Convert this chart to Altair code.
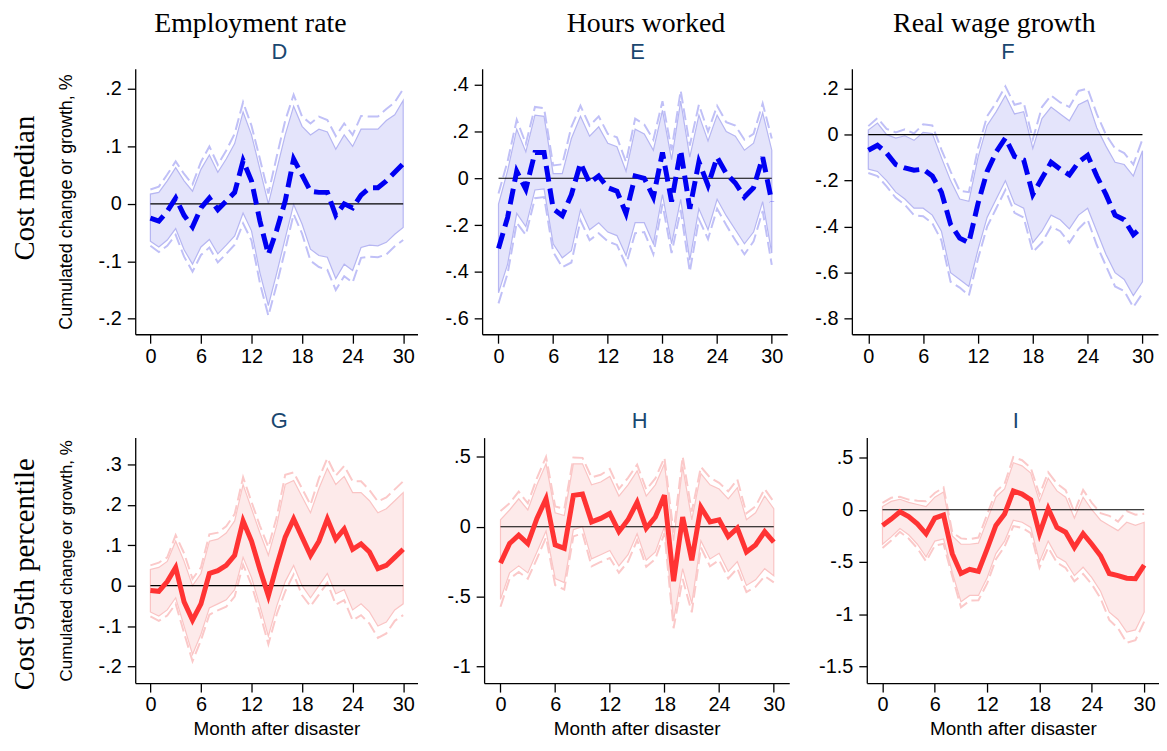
import altair as alt
import pandas as pd

months = list(range(31))
x_ticks = [0, 1.5, 3, 4.5, 6, 7.5, 9, 10.5, 12, 13.5, 15, 16.5, 18, 19.5,
           21, 22.5, 24, 25.5, 27, 28.5, 30]

col_titles = ["Employment rate", "Hours worked", "Real wage growth"]
row_titles = ["Cost median", "Cost 95th percentile"]

# ---- Cost median ----
emp_med_est = [-.025, -.03, -.013, .01, -.02, -.04, -.007, .01, -.01, .005, .02, .075, .04, -.03, -.088, -.045,
               .005, .078, .05, .022, .02, .02, -.02, .0, -.007, .015, .028, .028, .04, .055, .07]
emp_med_hi90 = [.017, .02, .04, .063, .04, .022, .06, .085, .055, .078, .105, .16, .12, .06, .0, .06,
                .12, .17, .135, .12, .13, .125, .095, .12, .10, .13, .13, .13, .145, .155, .18]
emp_med_lo90 = [-.065, -.075, -.063, -.043, -.08, -.105, -.075, -.062, -.087, -.072, -.056, -.016, -.047, -.12, -.177, -.12,
                -.06, -.001, -.035, -.079, -.09, -.093, -.13, -.105, -.116, -.076, -.072, -.073, -.067, -.053, -.041]
emp_med_hi95 = [.025, .03, .051, .074, .052, .034, .073, .10, .068, .093, .122, .177, .136, .078, .018, .083,
                .145, .19, .152, .14, .152, .146, .118, .14, .12, .153, .152, .152, .165, .177, .2]
emp_med_lo95 = [-.073, -.084, -.073, -.054, -.092, -.118, -.089, -.076, -.102, -.087, -.071, -.034, -.064, -.138, -.195, -.14,
                -.08, -.018, -.052, -.099, -.11, -.115, -.15, -.126, -.137, -.094, -.092, -.093, -.088, -.074, -.063]

hrs_med_est = [-.30, -.167, .03, -.047, .11, .11, -.13, -.16, -.07, .065, -.02, .01, -.04, -.055, -.15, .01,
               .0, -.08, .11, -.10, .12, -.13, .07, -.03, .09, .02, -.02, -.08, -.04, .09, -.10]
hrs_med_hi90 = [-.11, .033, .21, .113, .27, .265, .02, .02, .17, .265, .18, .22, .15, .135, .03, .21,
                .19, .12, .29, .08, .33, .09, .27, .16, .27, .2, .18, .12, .15, .28, .12]
hrs_med_lo90 = [-.49, -.367, -.15, -.207, -.05, -.045, -.28, -.34, -.31, -.135, -.22, -.19, -.23, -.245, -.33, -.19,
                -.19, -.28, -.07, -.28, -.09, -.35, -.13, -.22, -.09, -.16, -.22, -.28, -.23, -.1, -.32]
hrs_med_hi95 = [-.065, .073, .25, .148, .305, .30, .055, .06, .22, .31, .225, .265, .19, .175, .07, .255,
                .23, .165, .33, .12, .375, .14, .315, .2, .31, .24, .225, .165, .19, .32, .17]
hrs_med_lo95 = [-.535, -.407, -.19, -.242, -.085, -.08, -.315, -.38, -.36, -.18, -.265, -.235, -.27, -.285, -.37, -.235,
                -.23, -.325, -.11, -.32, -.135, -.40, -.175, -.26, -.13, -.2, -.265, -.325, -.27, -.14, -.37]

wage_med_est = [-.068, -.046, -.08, -.13, -.145, -.155, -.15, -.18, -.25, -.39, -.45, -.47, -.30, -.16, -.075, -.015,
                -.095, -.11, -.26, -.19, -.12, -.15, -.175, -.12, -.09, -.18, -.26, -.35, -.37, -.435, -.40]
wage_med_hi90 = [.02, .05, .0, -.015, -.005, -.025, .01, .005, -.1, -.2, -.28, -.29, -.1, .04, .1, .17,
                 .09, .1, -.06, .07, .12, .09, .06, .13, .15, .03, -.05, -.12, -.13, -.18, -.07]
wage_med_lo90 = [-.15, -.16, -.2, -.25, -.28, -.32, -.32, -.35, -.42, -.6, -.63, -.66, -.5, -.36, -.28, -.2,
                 -.3, -.32, -.47, -.42, -.35, -.37, -.41, -.35, -.32, -.42, -.52, -.6, -.63, -.7, -.64]
wage_med_hi95 = [.037, .072, .025, .01, .023, .005, .045, .04, -.065, -.16, -.245, -.25, -.06, .08, .14, .21,
                 .13, .14, -.02, .12, .17, .14, .12, .19, .2, .09, .0, -.06, -.08, -.13, -.02]
wage_med_lo95 = [-.167, -.18, -.225, -.275, -.305, -.35, -.355, -.385, -.46, -.64, -.665, -.7, -.54, -.4, -.32, -.24,
                 -.34, -.36, -.51, -.47, -.4, -.42, -.47, -.41, -.37, -.48, -.57, -.66, -.68, -.75, -.69]

# ---- Cost 95th percentile ----
emp_p95_est = [-.012, -.014, .01, .045, -.04, -.085, -.045, .03, .037, .05, .075, .16, .11, .04, -.025, .05,
               .12, .165, .12, .075, .11, .165, .115, .14, .09, .103, .083, .042, .05, .07, .09]
emp_p95_hi90 = [.04, .045, .06, .11, .06, .0, .03, .11, .115, .13, .16, .25, .19, .13, .075, .15,
                .25, .26, .22, .18, .24, .29, .25, .27, .23, .23, .21, .18, .19, .21, .23]
emp_p95_lo90 = [-.065, -.075, -.06, -.03, -.1, -.17, -.12, -.055, -.045, -.035, -.01, .07, .02, -.05, -.125, -.05,
                .01, .05, .0, -.03, .0, .03, -.02, -.01, -.06, -.045, -.065, -.1, -.09, -.06, -.045]
emp_p95_hi95 = [.05, .057, .07, .125, .08, .017, .045, .127, .131, .147, .177, .268, .207, .148, .095, .17,
                .274, .28, .24, .2, .265, .315, .272, .296, .258, .258, .236, .208, .218, .238, .258]
emp_p95_lo95 = [-.076, -.087, -.074, -.045, -.117, -.187, -.135, -.072, -.061, -.052, -.027, .052, .002, -.068, -.145, -.07,
                -.014, .028, -.024, -.051, -.022, .007, -.047, -.036, -.086, -.073, -.094, -.129, -.118, -.087, -.073]

hrs_p95_est = [-.26, -.12, -.06, -.12, .06, .2, -.13, -.155, .225, .235, .035, .06, .095, -.035, .05, .175,
               -.01, .07, .225, -.39, .07, -.24, .14, .035, .05, -.07, -.01, -.18, -.13, -.035, -.11]
hrs_p95_hi90 = [.05, .12, .2, .12, .3, .45, .1, .08, .45, .45, .3, .32, .36, .22, .3, .4,
                .22, .3, .45, -.1, .43, .05, .38, .3, .27, .2, .28, .05, .1, .22, .13]
hrs_p95_lo90 = [-.52, -.33, -.28, -.33, -.18, -.03, -.37, -.4, -.02, .0, -.23, -.2, -.17, -.28, -.2, -.05,
                -.24, -.18, .0, -.67, -.3, -.55, -.1, -.23, -.19, -.32, -.25, -.42, -.38, -.3, -.35]
hrs_p95_hi95 = [.112, .168, .252, .168, .348, .5, .146, .127, .495, .493, .353, .372, .413, .271, .35, .445,
                .266, .346, .495, -.042, .502, .108, .428, .353, .314, .254, .338, .096, .146, .271, .178]
hrs_p95_lo95 = [-.572, -.372, -.324, -.372, -.228, -.076, -.418, -.449, -.069, -.047, -.283, -.252, -.223, -.329, -.25, -.095,
                -.286, -.23, -.045, -.726, -.374, -.612, -.148, -.283, -.238, -.37, -.298, -.468, -.43, -.353, -.398]

wage_p95_est = [-.15, -.09, -.02, -.065, -.135, -.23, -.08, -.05, -.42, -.61, -.57, -.59, -.375, -.15, -.04, .18,
                .15, .095, -.23, .01, -.17, -.215, -.36, -.23, -.33, -.44, -.61, -.63, -.655, -.66, -.53]
wage_p95_hi90 = [.03, .08, .1, .07, .05, .03, .12, .17, -.25, -.33, -.33, -.32, -.1, .12, .2, .45,
                 .42, .35, .08, .3, .18, .12, -.08, .12, .0, -.1, -.15, -.2, -.12, -.15, -.12]
wage_p95_lo90 = [-.33, -.26, -.18, -.24, -.33, -.45, -.3, -.28, -.6, -.88, -.82, -.82, -.65, -.42, -.3, -.1,
                 -.12, -.17, -.5, -.3, -.45, -.5, -.63, -.55, -.65, -.78, -.98, -1.05, -1.17, -1.15, -.98]
wage_p95_hi95 = [.066, .114, .124, .097, .087, .082, .16, .214, -.216, -.274, -.282, -.266, -.045, .174, .248, .504,
                 .474, .401, .142, .358, .25, .187, -.024, .19, .066, -.032, -.058, -.114, -.013, -.048, -.038]
wage_p95_lo95 = [-.366, -.294, -.212, -.275, -.369, -.494, -.344, -.326, -.636, -.934, -.87, -.866, -.705, -.474, -.352, -.156,
                 -.174, -.223, -.554, -.362, -.506, -.557, -.684, -.614, -.714, -.848, -1.054, -1.134, -1.273, -1.248, -1.07]

BLUE = {"line": "#0000f2", "fill": "#e4e4fb", "edge": "#b6b6f2", "dash": "#c0c0f7"}
RED = {"line": "#ff3333", "fill": "#fdeaea", "edge": "#fac4c4", "dash": "#fbc9c9"}
SANS = "Liberation Sans"
SERIF = "Liberation Serif"
LETTER_COLOR = "#1a476f"

Y_LABEL = ("datum.value == 0 ? '0' : (datum.value < 0 ? '-' : '') + "
           "(abs(datum.value) < 1 ? substring(format(abs(datum.value), '.1f'), 1) "
           ": format(abs(datum.value), '.1~f'))")


def panel(series, letter, y_domain, y_ticks, colors, width, height,
          dashed=False, left=False, bottom=False, ytitle_size=18):
    est, lo90, hi90, lo95, hi95 = series
    df = pd.DataFrame({"month": months, "est": est, "lo90": lo90, "hi90": hi90,
                       "lo95": lo95, "hi95": hi95})

    x_axis = alt.Axis(values=x_ticks,
                      labelExpr="datum.value % 6 === 0 ? format(datum.value, 'd') : ''",
                      tickSize={"condition": {"test": "datum.value % 6 === 0", "value": 9}, "value": 5},
                      labelPadding=3, labelOverlap=False, labelFlush=False,
                      title="Month after disaster" if bottom else None, titlePadding=5,
                      titleFontSize=19)
    y_axis = alt.Axis(values=y_ticks, labelExpr=Y_LABEL, tickSize=8, labelPadding=6,
                      labelOverlap=False, labelFlush=False,
                      title="Cumulated change or growth, %" if left else None,
                      titlePadding=23, titleFontSize=ytitle_size)
    x = alt.X("month:Q", scale=alt.Scale(domain=[-1.8, 31.7], nice=False, zero=False), axis=x_axis)
    y_scale = alt.Scale(domain=y_domain, nice=False, zero=False)

    base = alt.Chart(df)
    band = base.mark_area(color=colors["fill"], stroke=colors["edge"], strokeWidth=1.2).encode(
        x=x, y=alt.Y("lo90:Q", scale=y_scale, axis=y_axis), y2="hi90:Q")
    upper = base.mark_line(color=colors["dash"], strokeWidth=2, strokeDash=[12, 5]).encode(
        x=x, y=alt.Y("hi95:Q", scale=y_scale, axis=y_axis))
    lower = base.mark_line(color=colors["dash"], strokeWidth=2, strokeDash=[12, 5]).encode(
        x=x, y=alt.Y("lo95:Q", scale=y_scale, axis=y_axis))
    zero = alt.Chart(pd.DataFrame({"z": [0]})).mark_rule(color="black", strokeWidth=1.1).encode(
        x=alt.datum(0), x2=alt.datum(30), y=alt.datum(0))
    line_kw = {"color": colors["line"], "strokeWidth": 5, "strokeCap": "butt"}
    if dashed:
        line_kw["strokeDash"] = [16, 7]
    point = base.mark_line(**line_kw).encode(
        x=x, y=alt.Y("est:Q", scale=y_scale, axis=y_axis))

    return alt.layer(band, upper, lower, zero, point).properties(
        width=width, height=height,
        title=alt.TitleParams(letter, font=SANS, fontSize=22, fontWeight="normal",
                              color=LETTER_COLOR, anchor="middle", offset=5, dx=3))


def header(chart, text, dx):
    return alt.vconcat(chart).properties(
        title=alt.TitleParams(text, font=SERIF, fontSize=28, fontWeight="normal",
                              color="black", anchor="middle", dx=dx, offset=3))


row_title_kw = {"orient": "left", "font": SERIF, "fontSize": 29, "fontWeight": "normal",
                "color": "black", "anchor": "middle", "offset": 18}

D = panel([emp_med_est, emp_med_lo90, emp_med_hi90, emp_med_lo95, emp_med_hi95], "D",
          [-.227, .235], [-.2, -.1, 0, .1, .2], BLUE, 284, 267, dashed=True, left=True)
E = panel([hrs_med_est, hrs_med_lo90, hrs_med_hi90, hrs_med_lo95, hrs_med_hi95], "E",
          [-.667, .468], [-.6, -.4, -.2, 0, .2, .4], BLUE, 307, 267, dashed=True)
F = panel([wage_med_est, wage_med_lo90, wage_med_hi90, wage_med_lo95, wage_med_hi95], "F",
          [-.868, .286], [-.8, -.6, -.4, -.2, 0, .2], BLUE, 308, 267, dashed=True)
G = panel([emp_p95_est, emp_p95_lo90, emp_p95_hi90, emp_p95_lo95, emp_p95_hi95], "G",
          [-.241, .366], [-.2, -.1, 0, .1, .2, .3], RED, 284, 247, left=True, bottom=True,
          ytitle_size=17)
H = panel([hrs_p95_est, hrs_p95_lo90, hrs_p95_hi90, hrs_p95_lo95, hrs_p95_hi95], "H",
          [-1.119, .638], [-1, -.5, 0, .5], RED, 307, 247, bottom=True)
I = panel([wage_p95_est, wage_p95_lo90, wage_p95_hi90, wage_p95_lo95, wage_p95_hi95], "I",
          [-1.659, .69], [-1.5, -1, -.5, 0, .5], RED, 294, 247, bottom=True)

row1 = alt.hconcat(header(D, col_titles[0], 13), header(E, col_titles[1], 30),
                   header(F, col_titles[2], 8), spacing=27).properties(
    title=alt.TitleParams(row_titles[0], **row_title_kw))
row2 = alt.hconcat(G, H, I, spacing=29).properties(
    title=alt.TitleParams(row_titles[1], **row_title_kw))

chart = alt.vconcat(row1, row2, spacing=44).properties(
    padding={"left": 2, "top": 0, "right": 0, "bottom": 0}, background="white"
).configure_view(strokeWidth=0).configure_axis(
    grid=False, domainColor="black", tickColor="black", labelColor="black",
    titleColor="black", labelFont=SANS, titleFont=SANS, labelFontSize=20,
    titleFontSize=20, titleFontWeight="normal", domainWidth=1.3, tickWidth=1.3
)

chart.save("out.html", embed_options={"renderer": "svg", "actions": False})
